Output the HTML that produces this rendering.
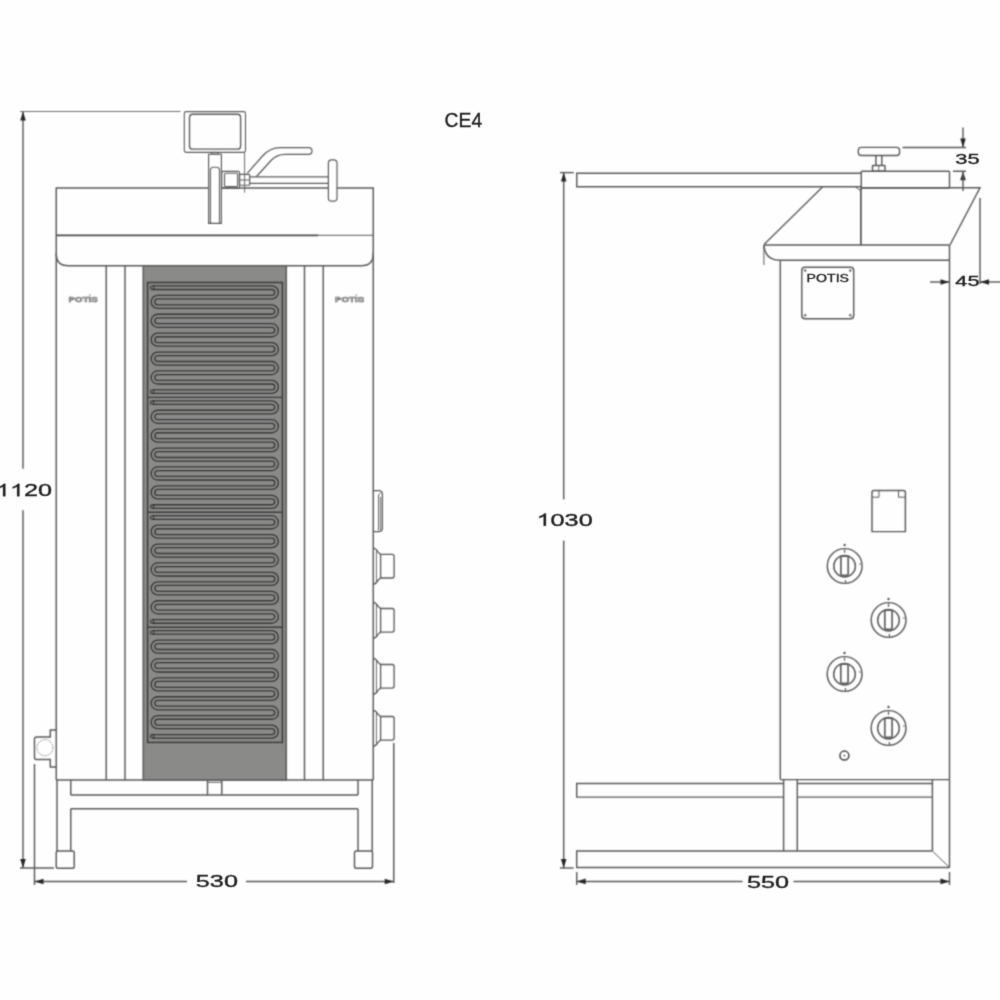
<!DOCTYPE html>
<html><head><meta charset="utf-8"><title>CE4</title>
<style>
html,body{margin:0;padding:0;background:#fefefe;}
body{width:1000px;height:1000px;overflow:hidden;}
svg{display:block;font-family:"Liberation Sans",sans-serif;}
</style></head><body>
<svg width="1000" height="1000" viewBox="0 0 1000 1000">
<defs><filter id="soft" filterUnits="userSpaceOnUse" x="0" y="0" width="1000" height="1000" color-interpolation-filters="sRGB">
<feConvolveMatrix order="3" kernelMatrix="0.04 0.12 0.04 0.12 0.36 0.12 0.04 0.12 0.04" divisor="1" edgeMode="duplicate" preserveAlpha="true"/>
</filter>
<filter id="soft2" filterUnits="userSpaceOnUse" x="0" y="0" width="1000" height="1000" color-interpolation-filters="sRGB">
<feConvolveMatrix order="3" kernelMatrix="0.0144 0.0912 0.0144 0.0912 0.5776 0.0912 0.0144 0.0912 0.0144" divisor="1" edgeMode="none" preserveAlpha="false"/>
</filter></defs>
<g filter="url(#soft)">
<rect width="1000" height="1000" fill="#fefefe"/>
<line x1="23" y1="111.5" x2="23" y2="468.8" stroke="#5a5a5a" stroke-width="1.45" />
<line x1="23" y1="510.2" x2="23" y2="867.9" stroke="#5a5a5a" stroke-width="1.45" />
<polygon points="23,111.5 20.2,120.5 25.8,120.5" fill="#262626"/>
<polygon points="23,867.9 20.2,858.9 25.8,858.9" fill="#262626"/>
<line x1="20" y1="111.5" x2="180.5" y2="111.5" stroke="#707070" stroke-width="1.0" />
<line x1="20" y1="867.9" x2="54" y2="867.9" stroke="#5a5a5a" stroke-width="1.45" />
<rect x="184.3" y="111.6" width="61.2" height="40.8" rx="1.8" ry="1.8" fill="none" stroke="#5a5a5a" stroke-width="1.1"/>
<rect x="189.5" y="114.2" width="51.1" height="34.9" rx="3.2" ry="3.2" fill="none" stroke="#5a5a5a" stroke-width="1.35"/>
<line x1="244.6" y1="152.4" x2="244.6" y2="192.7" stroke="#5a5a5a" stroke-width="0.9" />
<rect x="211.5" y="152.4" width="6.8" height="1.8" rx="0" ry="0" fill="none" stroke="#5a5a5a" stroke-width="1.0"/>
<path d="M208.6,154.2 H221.4 V223.3 H208.6 Z" fill="none" stroke="#5a5a5a" stroke-width="1.15" />
<path d="M210.4,223.3 V170.2 Q210.4,167.2 213.4,167.2 H216.5 Q219.5,167.2 219.5,170.2 V223.3" fill="none" stroke="#5a5a5a" stroke-width="1.1" />
<rect x="221.7" y="171.4" width="17.8" height="17.0" rx="1.5" ry="1.5" fill="none" stroke="#5a5a5a" stroke-width="1.25"/>
<rect x="224.5" y="173.3" width="13.1" height="13.2" rx="1" ry="1" fill="none" stroke="#5a5a5a" stroke-width="1.1"/>
<rect x="239.5" y="174.3" width="10.2" height="10.9" rx="0.8" ry="0.8" fill="none" stroke="#5a5a5a" stroke-width="1.15"/>
<line x1="239.5" y1="180" x2="249.7" y2="180" stroke="#5a5a5a" stroke-width="1.0" />
<line x1="249.7" y1="176.8" x2="328.6" y2="176.8" stroke="#5a5a5a" stroke-width="1.2" />
<line x1="249.7" y1="183.3" x2="328.6" y2="183.3" stroke="#5a5a5a" stroke-width="1.2" />
<rect x="328.4" y="159.8" width="8.6" height="41.4" rx="3.2" ry="3.2" fill="none" stroke="#5a5a5a" stroke-width="1.2"/>
<path d="M247.2,173.4 L262.5,156 Q270,147.6 280,147.6 H308.6 Q312,147.6 312,151 Q312,154.4 308.6,154.4 H285 Q277,154.4 271,160.5 L256.5,176.5" fill="none" stroke="#5a5a5a" stroke-width="1.2" />
<path d="M56.25,253.75 V188 H208 M221.7,188 H328.4 M337,188 H373.25 V253.75 Q373.25,265.75 361.25,265.75 H68.25 Q56.25,265.75 56.25,253.75" fill="none" stroke="#5a5a5a" stroke-width="1.45" />
<line x1="56.25" y1="235.3" x2="318" y2="235.3" stroke="#4a4a4a" stroke-width="1.7" />
<line x1="318" y1="235.3" x2="373.25" y2="235.3" stroke="#5a5a5a" stroke-width="1.0" />
<line x1="56.25" y1="253" x2="56.25" y2="780" stroke="#5a5a5a" stroke-width="1.45" />
<line x1="373.25" y1="253" x2="373.25" y2="780" stroke="#5a5a5a" stroke-width="1.45" />
<line x1="56.25" y1="780" x2="373.25" y2="780" stroke="#5a5a5a" stroke-width="1.45" />
<line x1="106.25" y1="265.75" x2="106.25" y2="780" stroke="#5a5a5a" stroke-width="1.45" />
<line x1="125" y1="265.75" x2="125" y2="780" stroke="#5a5a5a" stroke-width="1.45" />
<line x1="304.5" y1="265.75" x2="304.5" y2="780" stroke="#5a5a5a" stroke-width="1.45" />
<line x1="323.25" y1="265.75" x2="323.25" y2="780" stroke="#5a5a5a" stroke-width="1.45" />
<rect x="143.25" y="265.75" width="143.0" height="514.25" rx="0" ry="0" fill="#8a8a89" stroke="#606060" stroke-width="1.6"/>
<rect x="147.6" y="282.5" width="134.8" height="459.9" rx="0" ry="0" fill="none" stroke="#3c3c3c" stroke-width="1.5"/>
<line x1="147.6" y1="397.4" x2="282.4" y2="397.4" stroke="#3c3c3c" stroke-width="1.4" />
<line x1="147.6" y1="512.3" x2="282.4" y2="512.3" stroke="#3c3c3c" stroke-width="1.4" />
<line x1="147.6" y1="627.2" x2="282.4" y2="627.2" stroke="#3c3c3c" stroke-width="1.4" />
<path d="M152.3,287.70 H271.8 A4.725,4.725 0 0 1 271.8,297.15 H157.7 A4.725,4.725 0 0 0 157.7,306.60 H271.8 A4.725,4.725 0 0 1 271.8,316.05 H157.7 A4.725,4.725 0 0 0 157.7,325.50 H271.8 A4.725,4.725 0 0 1 271.8,334.95 H157.7 A4.725,4.725 0 0 0 157.7,344.40 H271.8 A4.725,4.725 0 0 1 271.8,353.85 H157.7 A4.725,4.725 0 0 0 157.7,363.30 H271.8 A4.725,4.725 0 0 1 271.8,372.75 H157.7 A4.725,4.725 0 0 0 157.7,382.20 H271.8 A4.725,4.725 0 0 1 271.8,391.65 H152.3" fill="none" stroke="#363636" stroke-width="4.9" stroke-linecap="butt"/>
<path d="M152.3,287.70 H271.8 A4.725,4.725 0 0 1 271.8,297.15 H157.7 A4.725,4.725 0 0 0 157.7,306.60 H271.8 A4.725,4.725 0 0 1 271.8,316.05 H157.7 A4.725,4.725 0 0 0 157.7,325.50 H271.8 A4.725,4.725 0 0 1 271.8,334.95 H157.7 A4.725,4.725 0 0 0 157.7,344.40 H271.8 A4.725,4.725 0 0 1 271.8,353.85 H157.7 A4.725,4.725 0 0 0 157.7,363.30 H271.8 A4.725,4.725 0 0 1 271.8,372.75 H157.7 A4.725,4.725 0 0 0 157.7,382.20 H271.8 A4.725,4.725 0 0 1 271.8,391.65 H152.3" fill="none" stroke="#8b8b8a" stroke-width="2.3" stroke-linecap="butt"/>
<circle cx="152.2" cy="287.7" r="1.7" fill="#8a8a89" stroke="#333" stroke-width="1.1" />
<circle cx="152.2" cy="391.64999999999986" r="1.7" fill="#8a8a89" stroke="#333" stroke-width="1.1" />
<path d="M152.3,402.60 H271.8 A4.725,4.725 0 0 1 271.8,412.05 H157.7 A4.725,4.725 0 0 0 157.7,421.50 H271.8 A4.725,4.725 0 0 1 271.8,430.95 H157.7 A4.725,4.725 0 0 0 157.7,440.40 H271.8 A4.725,4.725 0 0 1 271.8,449.85 H157.7 A4.725,4.725 0 0 0 157.7,459.30 H271.8 A4.725,4.725 0 0 1 271.8,468.75 H157.7 A4.725,4.725 0 0 0 157.7,478.20 H271.8 A4.725,4.725 0 0 1 271.8,487.65 H157.7 A4.725,4.725 0 0 0 157.7,497.10 H271.8 A4.725,4.725 0 0 1 271.8,506.55 H152.3" fill="none" stroke="#363636" stroke-width="4.9" stroke-linecap="butt"/>
<path d="M152.3,402.60 H271.8 A4.725,4.725 0 0 1 271.8,412.05 H157.7 A4.725,4.725 0 0 0 157.7,421.50 H271.8 A4.725,4.725 0 0 1 271.8,430.95 H157.7 A4.725,4.725 0 0 0 157.7,440.40 H271.8 A4.725,4.725 0 0 1 271.8,449.85 H157.7 A4.725,4.725 0 0 0 157.7,459.30 H271.8 A4.725,4.725 0 0 1 271.8,468.75 H157.7 A4.725,4.725 0 0 0 157.7,478.20 H271.8 A4.725,4.725 0 0 1 271.8,487.65 H157.7 A4.725,4.725 0 0 0 157.7,497.10 H271.8 A4.725,4.725 0 0 1 271.8,506.55 H152.3" fill="none" stroke="#8b8b8a" stroke-width="2.3" stroke-linecap="butt"/>
<circle cx="152.2" cy="402.59999999999997" r="1.7" fill="#8a8a89" stroke="#333" stroke-width="1.1" />
<circle cx="152.2" cy="506.54999999999984" r="1.7" fill="#8a8a89" stroke="#333" stroke-width="1.1" />
<path d="M152.3,517.50 H271.8 A4.725,4.725 0 0 1 271.8,526.95 H157.7 A4.725,4.725 0 0 0 157.7,536.40 H271.8 A4.725,4.725 0 0 1 271.8,545.85 H157.7 A4.725,4.725 0 0 0 157.7,555.30 H271.8 A4.725,4.725 0 0 1 271.8,564.75 H157.7 A4.725,4.725 0 0 0 157.7,574.20 H271.8 A4.725,4.725 0 0 1 271.8,583.65 H157.7 A4.725,4.725 0 0 0 157.7,593.10 H271.8 A4.725,4.725 0 0 1 271.8,602.55 H157.7 A4.725,4.725 0 0 0 157.7,612.00 H271.8 A4.725,4.725 0 0 1 271.8,621.45 H152.3" fill="none" stroke="#363636" stroke-width="4.9" stroke-linecap="butt"/>
<path d="M152.3,517.50 H271.8 A4.725,4.725 0 0 1 271.8,526.95 H157.7 A4.725,4.725 0 0 0 157.7,536.40 H271.8 A4.725,4.725 0 0 1 271.8,545.85 H157.7 A4.725,4.725 0 0 0 157.7,555.30 H271.8 A4.725,4.725 0 0 1 271.8,564.75 H157.7 A4.725,4.725 0 0 0 157.7,574.20 H271.8 A4.725,4.725 0 0 1 271.8,583.65 H157.7 A4.725,4.725 0 0 0 157.7,593.10 H271.8 A4.725,4.725 0 0 1 271.8,602.55 H157.7 A4.725,4.725 0 0 0 157.7,612.00 H271.8 A4.725,4.725 0 0 1 271.8,621.45 H152.3" fill="none" stroke="#8b8b8a" stroke-width="2.3" stroke-linecap="butt"/>
<circle cx="152.2" cy="517.5" r="1.7" fill="#8a8a89" stroke="#333" stroke-width="1.1" />
<circle cx="152.2" cy="621.4500000000005" r="1.7" fill="#8a8a89" stroke="#333" stroke-width="1.1" />
<path d="M152.3,632.40 H271.8 A4.725,4.725 0 0 1 271.8,641.85 H157.7 A4.725,4.725 0 0 0 157.7,651.30 H271.8 A4.725,4.725 0 0 1 271.8,660.75 H157.7 A4.725,4.725 0 0 0 157.7,670.20 H271.8 A4.725,4.725 0 0 1 271.8,679.65 H157.7 A4.725,4.725 0 0 0 157.7,689.10 H271.8 A4.725,4.725 0 0 1 271.8,698.55 H157.7 A4.725,4.725 0 0 0 157.7,708.00 H271.8 A4.725,4.725 0 0 1 271.8,717.45 H157.7 A4.725,4.725 0 0 0 157.7,726.90 H271.8 A4.725,4.725 0 0 1 271.8,736.35 H152.3" fill="none" stroke="#363636" stroke-width="4.9" stroke-linecap="butt"/>
<path d="M152.3,632.40 H271.8 A4.725,4.725 0 0 1 271.8,641.85 H157.7 A4.725,4.725 0 0 0 157.7,651.30 H271.8 A4.725,4.725 0 0 1 271.8,660.75 H157.7 A4.725,4.725 0 0 0 157.7,670.20 H271.8 A4.725,4.725 0 0 1 271.8,679.65 H157.7 A4.725,4.725 0 0 0 157.7,689.10 H271.8 A4.725,4.725 0 0 1 271.8,698.55 H157.7 A4.725,4.725 0 0 0 157.7,708.00 H271.8 A4.725,4.725 0 0 1 271.8,717.45 H157.7 A4.725,4.725 0 0 0 157.7,726.90 H271.8 A4.725,4.725 0 0 1 271.8,736.35 H152.3" fill="none" stroke="#8b8b8a" stroke-width="2.3" stroke-linecap="butt"/>
<circle cx="152.2" cy="632.4000000000001" r="1.7" fill="#8a8a89" stroke="#333" stroke-width="1.1" />
<circle cx="152.2" cy="736.3500000000006" r="1.7" fill="#8a8a89" stroke="#333" stroke-width="1.1" />
<text x="68.6" y="302.1" font-size="7.6" font-weight="bold" fill="#d8d8d8" stroke="#6e6e6e" stroke-width="0.6" textLength="29.2" lengthAdjust="spacingAndGlyphs">POTIS</text>
<circle cx="89.89999999999999" cy="294.9" r="0.5" fill="#888" stroke="#777" stroke-width="0.4" />
<text x="335.0" y="302.1" font-size="7.6" font-weight="bold" fill="#d8d8d8" stroke="#6e6e6e" stroke-width="0.6" textLength="29.2" lengthAdjust="spacingAndGlyphs">POTIS</text>
<circle cx="356.3" cy="294.9" r="0.5" fill="#888" stroke="#777" stroke-width="0.4" />
<line x1="57" y1="780" x2="57" y2="851" stroke="#5a5a5a" stroke-width="1.45" />
<line x1="70.75" y1="780" x2="70.75" y2="795" stroke="#5a5a5a" stroke-width="1.45" />
<line x1="70.75" y1="808.75" x2="70.75" y2="851" stroke="#5a5a5a" stroke-width="1.45" />
<line x1="70.75" y1="795" x2="358" y2="795" stroke="#5a5a5a" stroke-width="1.45" />
<line x1="70.75" y1="808.75" x2="358" y2="808.75" stroke="#5a5a5a" stroke-width="1.45" />
<line x1="358" y1="780" x2="358" y2="795" stroke="#5a5a5a" stroke-width="1.45" />
<line x1="358" y1="808.75" x2="358" y2="851" stroke="#5a5a5a" stroke-width="1.45" />
<line x1="372.2" y1="780" x2="372.2" y2="851" stroke="#5a5a5a" stroke-width="1.45" />
<rect x="56.25" y="851" width="18.0" height="17.3" rx="1.8" ry="1.8" fill="none" stroke="#5a5a5a" stroke-width="1.45"/>
<rect x="354.5" y="851" width="18.0" height="17.3" rx="1.8" ry="1.8" fill="none" stroke="#5a5a5a" stroke-width="1.45"/>
<line x1="207.5" y1="780" x2="207.5" y2="795" stroke="#5a5a5a" stroke-width="1.45" />
<line x1="221.75" y1="780" x2="221.75" y2="795" stroke="#5a5a5a" stroke-width="1.45" />
<line x1="207.5" y1="782.3" x2="221.75" y2="782.3" stroke="#5a5a5a" stroke-width="1.0" />
<path d="M56.25,730 H50.3 V737 H36.5 Q34.5,737 34.5,739 V757.5 Q34.5,759.5 36.5,759.5 H50.3 V767 H56.25" fill="none" stroke="#5a5a5a" stroke-width="1.45" />
<circle cx="45" cy="747.7" r="8" fill="none" stroke="#777" stroke-width="0.9" stroke-dasharray="1.6 1.1"/>
<path d="M373.5,490.5 H379.6 Q382.4,491 382.4,494 V528.5 Q382.4,531 379.6,531.5 H373.5" fill="none" stroke="#5a5a5a" stroke-width="1.25" />
<path d="M378.6,495 V530.5" fill="none" stroke="#5a5a5a" stroke-width="1.0" />
<path d="M378.6,495 L380.6,492.6 M380.6,497 V529.8" fill="none" stroke="#5a5a5a" stroke-width="0.9" />
<path d="M373.5,548.2 Q376.5,548.7 378,552.2 L380.6,554.4000000000001 V578.0 L378,580.2 Q376.5,583.7 373.5,584.2" fill="none" stroke="#5a5a5a" stroke-width="1.3" />
<path d="M376.4,550.7 V581.7" fill="none" stroke="#5a5a5a" stroke-width="0.9" />
<path d="M380.6,554.4000000000001 H392.2 Q394.1,554.4000000000001 394.1,556.4000000000001 V576.0 Q394.1,578.0 392.2,578.0 H380.6" fill="none" stroke="#5a5a5a" stroke-width="1.3" />
<path d="M373.5,602.3 Q376.5,602.8 378,606.3 L380.6,608.5 V632.0999999999999 L378,634.3 Q376.5,637.8 373.5,638.3" fill="none" stroke="#5a5a5a" stroke-width="1.3" />
<path d="M376.4,604.8 V635.8" fill="none" stroke="#5a5a5a" stroke-width="0.9" />
<path d="M380.6,608.5 H392.2 Q394.1,608.5 394.1,610.5 V630.0999999999999 Q394.1,632.0999999999999 392.2,632.0999999999999 H380.6" fill="none" stroke="#5a5a5a" stroke-width="1.3" />
<path d="M373.5,658.3 Q376.5,658.8 378,662.3 L380.6,664.5 V688.0999999999999 L378,690.3 Q376.5,693.8 373.5,694.3" fill="none" stroke="#5a5a5a" stroke-width="1.3" />
<path d="M376.4,660.8 V691.8" fill="none" stroke="#5a5a5a" stroke-width="0.9" />
<path d="M380.6,664.5 H392.2 Q394.1,664.5 394.1,666.5 V686.0999999999999 Q394.1,688.0999999999999 392.2,688.0999999999999 H380.6" fill="none" stroke="#5a5a5a" stroke-width="1.3" />
<path d="M373.5,710.3 Q376.5,710.8 378,714.3 L380.6,716.5 V740.0999999999999 L378,742.3 Q376.5,745.8 373.5,746.3" fill="none" stroke="#5a5a5a" stroke-width="1.3" />
<path d="M376.4,712.8 V743.8" fill="none" stroke="#5a5a5a" stroke-width="0.9" />
<path d="M380.6,716.5 H392.2 Q394.1,716.5 394.1,718.5 V738.0999999999999 Q394.1,740.0999999999999 392.2,740.0999999999999 H380.6" fill="none" stroke="#5a5a5a" stroke-width="1.3" />
<line x1="34.5" y1="764" x2="34.5" y2="885" stroke="#5a5a5a" stroke-width="1.45" />
<line x1="393.75" y1="743" x2="393.75" y2="883" stroke="#5a5a5a" stroke-width="1.45" />
<line x1="34.5" y1="881.5" x2="187" y2="881.5" stroke="#5a5a5a" stroke-width="1.45" />
<line x1="246" y1="881.5" x2="393.75" y2="881.5" stroke="#5a5a5a" stroke-width="1.45" />
<polygon points="34.5,881.5 43.5,878.7 43.5,884.3" fill="#262626"/>
<polygon points="393.75,881.5 384.75,878.7 384.75,884.3" fill="#262626"/>
<line x1="563.7" y1="172.5" x2="563.7" y2="499.6" stroke="#5a5a5a" stroke-width="1.45" />
<line x1="563.7" y1="540.6" x2="563.7" y2="868" stroke="#5a5a5a" stroke-width="1.45" />
<polygon points="563.7,172.5 560.9000000000001,181.5 566.5,181.5" fill="#262626"/>
<polygon points="563.7,868 560.9000000000001,859 566.5,859" fill="#262626"/>
<line x1="560" y1="172.6" x2="573.8" y2="172.6" stroke="#5a5a5a" stroke-width="1.45" />
<line x1="560" y1="868" x2="573.6" y2="868" stroke="#5a5a5a" stroke-width="1.45" />
<path d="M861.25,173.25 H576.75 V186.75 H861.25" fill="none" stroke="#5a5a5a" stroke-width="1.45" />
<rect x="861.25" y="171.25" width="88.25" height="16.75" rx="0.8" ry="0.8" fill="none" stroke="#5a5a5a" stroke-width="1.45"/>
<rect x="858.3" y="147.4" width="41.3" height="8.1" rx="3.0" ry="3.0" fill="none" stroke="#5a5a5a" stroke-width="1.35"/>
<line x1="875.9" y1="155.6" x2="875.9" y2="165.5" stroke="#5a5a5a" stroke-width="1.45" />
<line x1="881.8" y1="155.6" x2="881.8" y2="165.5" stroke="#5a5a5a" stroke-width="1.45" />
<rect x="872.5" y="165.5" width="12.5" height="5.75" rx="0.6" ry="0.6" fill="none" stroke="#5a5a5a" stroke-width="1.45"/>
<line x1="878.8" y1="165.5" x2="878.8" y2="171.25" stroke="#5a5a5a" stroke-width="0.9" />
<path d="M861,187.8 H980 L950,245" fill="none" stroke="#5a5a5a" stroke-width="1.45" />
<path d="M822.5,187 L764,244.5" fill="none" stroke="#5a5a5a" stroke-width="1.3" />
<path d="M855.5,187 L860.9,191" fill="none" stroke="#5a5a5a" stroke-width="1.0" />
<line x1="860.9" y1="188" x2="860.9" y2="245" stroke="#5c5c5c" stroke-width="1.8" />
<path d="M763.9,245 H949.5" fill="none" stroke="#5a5a5a" stroke-width="1.45" />
<path d="M763.9,245 Q765,260.3 780.3,260.3 H949.5" fill="none" stroke="#5a5a5a" stroke-width="1.45" />
<line x1="763.9" y1="245" x2="763.9" y2="265" stroke="#5a5a5a" stroke-width="1.0" />
<line x1="780.3" y1="260.3" x2="780.3" y2="779.6" stroke="#5a5a5a" stroke-width="1.45" />
<line x1="949.5" y1="245" x2="949.5" y2="779.6" stroke="#5a5a5a" stroke-width="1.45" />
<line x1="780.3" y1="779.6" x2="949.5" y2="779.6" stroke="#5a5a5a" stroke-width="1.45" />
<rect x="801.8" y="267.2" width="51.9" height="51.5" rx="3.2" ry="3.2" fill="none" stroke="#5a5a5a" stroke-width="1.45"/>
<circle cx="805.2" cy="270.6" r="1.1" fill="#888" stroke="#666" stroke-width="0.6" />
<circle cx="805.2" cy="315.3" r="1.1" fill="#888" stroke="#666" stroke-width="0.6" />
<circle cx="850.3" cy="270.6" r="1.1" fill="#888" stroke="#666" stroke-width="0.6" />
<circle cx="850.3" cy="315.3" r="1.1" fill="#888" stroke="#666" stroke-width="0.6" />
<path d="M872,531.6 V492.4 Q872,490.4 874,490.4 H903.4 Q905.4,490.4 905.4,492.4 V531.6 Z" fill="none" stroke="#5a5a5a" stroke-width="1.45" />
<path d="M879,490.4 V497.2 H872 M898.5,490.4 V497.2 H905.4" fill="none" stroke="#5a5a5a" stroke-width="1.0" />
<circle cx="844.7" cy="566.0" r="17.4" fill="none" stroke="#5a5a5a" stroke-width="1.45" />
<circle cx="844.6" cy="566.2" r="10.8" fill="none" stroke="#5a5a5a" stroke-width="1.45" />
<rect x="840.9000000000001" y="556.2" width="7.3" height="19.1" rx="1.6" ry="1.6" fill="none" stroke="#606060" stroke-width="1.7"/>
<circle cx="844.6" cy="545.0" r="0.9" fill="#444" stroke="#444" stroke-width="0.5" />
<line x1="844.6" y1="549.4" x2="844.6" y2="552.8" stroke="#666" stroke-width="1.3" />
<line x1="845.5" y1="580.0" x2="845.5" y2="583.4" stroke="#666" stroke-width="1.3" />
<line x1="859.0" y1="564.0" x2="861.9000000000001" y2="564.0" stroke="#777" stroke-width="1.1" />
<circle cx="888.6" cy="620.0" r="17.4" fill="none" stroke="#5a5a5a" stroke-width="1.45" />
<circle cx="888.5" cy="620.2" r="10.8" fill="none" stroke="#5a5a5a" stroke-width="1.45" />
<rect x="884.8000000000001" y="610.2" width="7.3" height="19.1" rx="1.6" ry="1.6" fill="none" stroke="#606060" stroke-width="1.7"/>
<circle cx="888.5" cy="599.0" r="0.9" fill="#444" stroke="#444" stroke-width="0.5" />
<line x1="888.5" y1="603.4" x2="888.5" y2="606.8" stroke="#666" stroke-width="1.3" />
<line x1="889.4" y1="634.0" x2="889.4" y2="637.4" stroke="#666" stroke-width="1.3" />
<line x1="902.9" y1="618.0" x2="905.8000000000001" y2="618.0" stroke="#777" stroke-width="1.1" />
<circle cx="844.6" cy="674.0" r="17.4" fill="none" stroke="#5a5a5a" stroke-width="1.45" />
<circle cx="844.5" cy="674.2" r="10.8" fill="none" stroke="#5a5a5a" stroke-width="1.45" />
<rect x="840.8000000000001" y="664.2" width="7.3" height="19.1" rx="1.6" ry="1.6" fill="none" stroke="#606060" stroke-width="1.7"/>
<circle cx="844.5" cy="653.0" r="0.9" fill="#444" stroke="#444" stroke-width="0.5" />
<line x1="844.5" y1="657.4" x2="844.5" y2="660.8" stroke="#666" stroke-width="1.3" />
<line x1="845.4" y1="688.0" x2="845.4" y2="691.4" stroke="#666" stroke-width="1.3" />
<line x1="858.9" y1="672.0" x2="861.8000000000001" y2="672.0" stroke="#777" stroke-width="1.1" />
<circle cx="888.6" cy="728.0" r="17.4" fill="none" stroke="#5a5a5a" stroke-width="1.45" />
<circle cx="888.5" cy="728.2" r="10.8" fill="none" stroke="#5a5a5a" stroke-width="1.45" />
<rect x="884.8000000000001" y="718.2" width="7.3" height="19.1" rx="1.6" ry="1.6" fill="none" stroke="#606060" stroke-width="1.7"/>
<circle cx="888.5" cy="707.0" r="0.9" fill="#444" stroke="#444" stroke-width="0.5" />
<line x1="888.5" y1="711.4" x2="888.5" y2="714.8" stroke="#666" stroke-width="1.3" />
<line x1="889.4" y1="742.0" x2="889.4" y2="745.4" stroke="#666" stroke-width="1.3" />
<line x1="902.9" y1="726.0" x2="905.8000000000001" y2="726.0" stroke="#777" stroke-width="1.1" />
<circle cx="844.4" cy="755.6" r="4.5" fill="none" stroke="#444" stroke-width="1.5" />
<circle cx="844.4" cy="755.6" r="0.7" fill="#666" stroke="#555" stroke-width="0.5" />
<path d="M783.6,783.4 H576.7 V797.1 H783.6" fill="none" stroke="#5a5a5a" stroke-width="1.45" />
<line x1="797.3" y1="783.4" x2="932.4" y2="783.4" stroke="#5a5a5a" stroke-width="1.45" />
<line x1="797.3" y1="797.1" x2="932.4" y2="797.1" stroke="#5a5a5a" stroke-width="1.45" />
<line x1="783.6" y1="779.6" x2="783.6" y2="851" stroke="#5a5a5a" stroke-width="1.45" />
<line x1="797.3" y1="779.6" x2="797.3" y2="851" stroke="#5a5a5a" stroke-width="1.45" />
<line x1="932.4" y1="779.6" x2="932.4" y2="851" stroke="#5a5a5a" stroke-width="1.45" />
<line x1="949.5" y1="779.6" x2="949.5" y2="867.5" stroke="#5a5a5a" stroke-width="1.45" />
<path d="M932.4,851 H576.7 V867.5 H949.5" fill="none" stroke="#5a5a5a" stroke-width="1.45" />
<line x1="932.4" y1="851" x2="949.5" y2="867.5" stroke="#5a5a5a" stroke-width="1.0" />
<line x1="576.7" y1="872" x2="576.7" y2="885" stroke="#5a5a5a" stroke-width="1.45" />
<line x1="949.5" y1="872" x2="949.5" y2="885" stroke="#5a5a5a" stroke-width="1.45" />
<line x1="576.7" y1="881.4" x2="742.5" y2="881.4" stroke="#5a5a5a" stroke-width="1.45" />
<line x1="793.5" y1="881.4" x2="949.5" y2="881.4" stroke="#5a5a5a" stroke-width="1.45" />
<polygon points="576.7,881.4 585.7,878.6 585.7,884.1999999999999" fill="#262626"/>
<polygon points="949.5,881.4 940.5,878.6 940.5,884.1999999999999" fill="#262626"/>
<line x1="963" y1="127.5" x2="963" y2="147.4" stroke="#5a5a5a" stroke-width="1.45" />
<polygon points="963,147.4 960.2,138.4 965.8,138.4" fill="#262626"/>
<line x1="902.5" y1="147.4" x2="966" y2="147.4" stroke="#5a5a5a" stroke-width="1.45" />
<line x1="953" y1="171.25" x2="966" y2="171.25" stroke="#5a5a5a" stroke-width="1.45" />
<polygon points="963,171.25 960.2,180.25 965.8,180.25" fill="#262626"/>
<line x1="963" y1="171.25" x2="963" y2="191" stroke="#5a5a5a" stroke-width="1.45" />
<line x1="980" y1="198" x2="980" y2="284" stroke="#5a5a5a" stroke-width="1.45" />
<line x1="930" y1="282" x2="949.5" y2="282" stroke="#5a5a5a" stroke-width="1.45" />
<polygon points="949.5,282 940.5,279.2 940.5,284.8" fill="#262626"/>
<line x1="980" y1="282" x2="1000" y2="282" stroke="#5a5a5a" stroke-width="1.45" />
<polygon points="980,282 989,279.2 989,284.8" fill="#262626"/>
</g>
<g filter="url(#soft2)">
<g transform="translate(-4.1,496.2) scale(1.47,1)">
<path transform="translate(0.000,0) scale(0.008398,-0.008398)" d="M763 0 H583 V1147 Q518 1085 412.5 1023 Q307 961 223 930 V1104 Q374 1175 487 1276 Q600 1377 647 1472 H763 Z" fill="#1e1e1e" stroke="#1e1e1e" stroke-width="33.3"/>
<path transform="translate(9.563,0) scale(0.008398,-0.008398)" d="M763 0 H583 V1147 Q518 1085 412.5 1023 Q307 961 223 930 V1104 Q374 1175 487 1276 Q600 1377 647 1472 H763 Z" fill="#1e1e1e" stroke="#1e1e1e" stroke-width="33.3"/>
<text x="19.126" y="0" font-size="17.2" fill="#1e1e1e" stroke="#1e1e1e" stroke-width="0.35">20</text>
</g>
<g transform="translate(195.8,887.4) scale(1.47,1)">
<text x="0.000" y="0" font-size="17.2" fill="#1e1e1e" stroke="#1e1e1e" stroke-width="0.35">530</text>
</g>
<text x="444.6" y="127.3" font-size="19.3" font-weight="normal" fill="#1e1e1e" stroke="#1e1e1e" stroke-width="0.35" text-anchor="start" >CE4</text>
<g transform="translate(536.5,525.8) scale(1.47,1)">
<path transform="translate(0.000,0) scale(0.008398,-0.008398)" d="M763 0 H583 V1147 Q518 1085 412.5 1023 Q307 961 223 930 V1104 Q374 1175 487 1276 Q600 1377 647 1472 H763 Z" fill="#1e1e1e" stroke="#1e1e1e" stroke-width="33.3"/>
<text x="9.563" y="0" font-size="17.2" fill="#1e1e1e" stroke="#1e1e1e" stroke-width="0.35">030</text>
</g>
<text x="806.6" y="282.3" font-size="10.6" font-weight="normal" fill="#222" stroke="#222" stroke-width="0.3" text-anchor="start" textLength="42.4" lengthAdjust="spacingAndGlyphs">POTIS</text>
<g transform="translate(746.9,888) scale(1.47,1)">
<text x="0.000" y="0" font-size="17.2" fill="#1e1e1e" stroke="#1e1e1e" stroke-width="0.35">550</text>
</g>
<g transform="translate(955.3,164.3) scale(1.5,1)">
<text x="0.000" y="0" font-size="14.6" fill="#1e1e1e" stroke="#1e1e1e" stroke-width="0.35">35</text>
</g>
<g transform="translate(955.3,286.2) scale(1.5,1)">
<text x="0.000" y="0" font-size="14.6" fill="#1e1e1e" stroke="#1e1e1e" stroke-width="0.35">45</text>
</g>
</g>
</svg>
</body></html>
